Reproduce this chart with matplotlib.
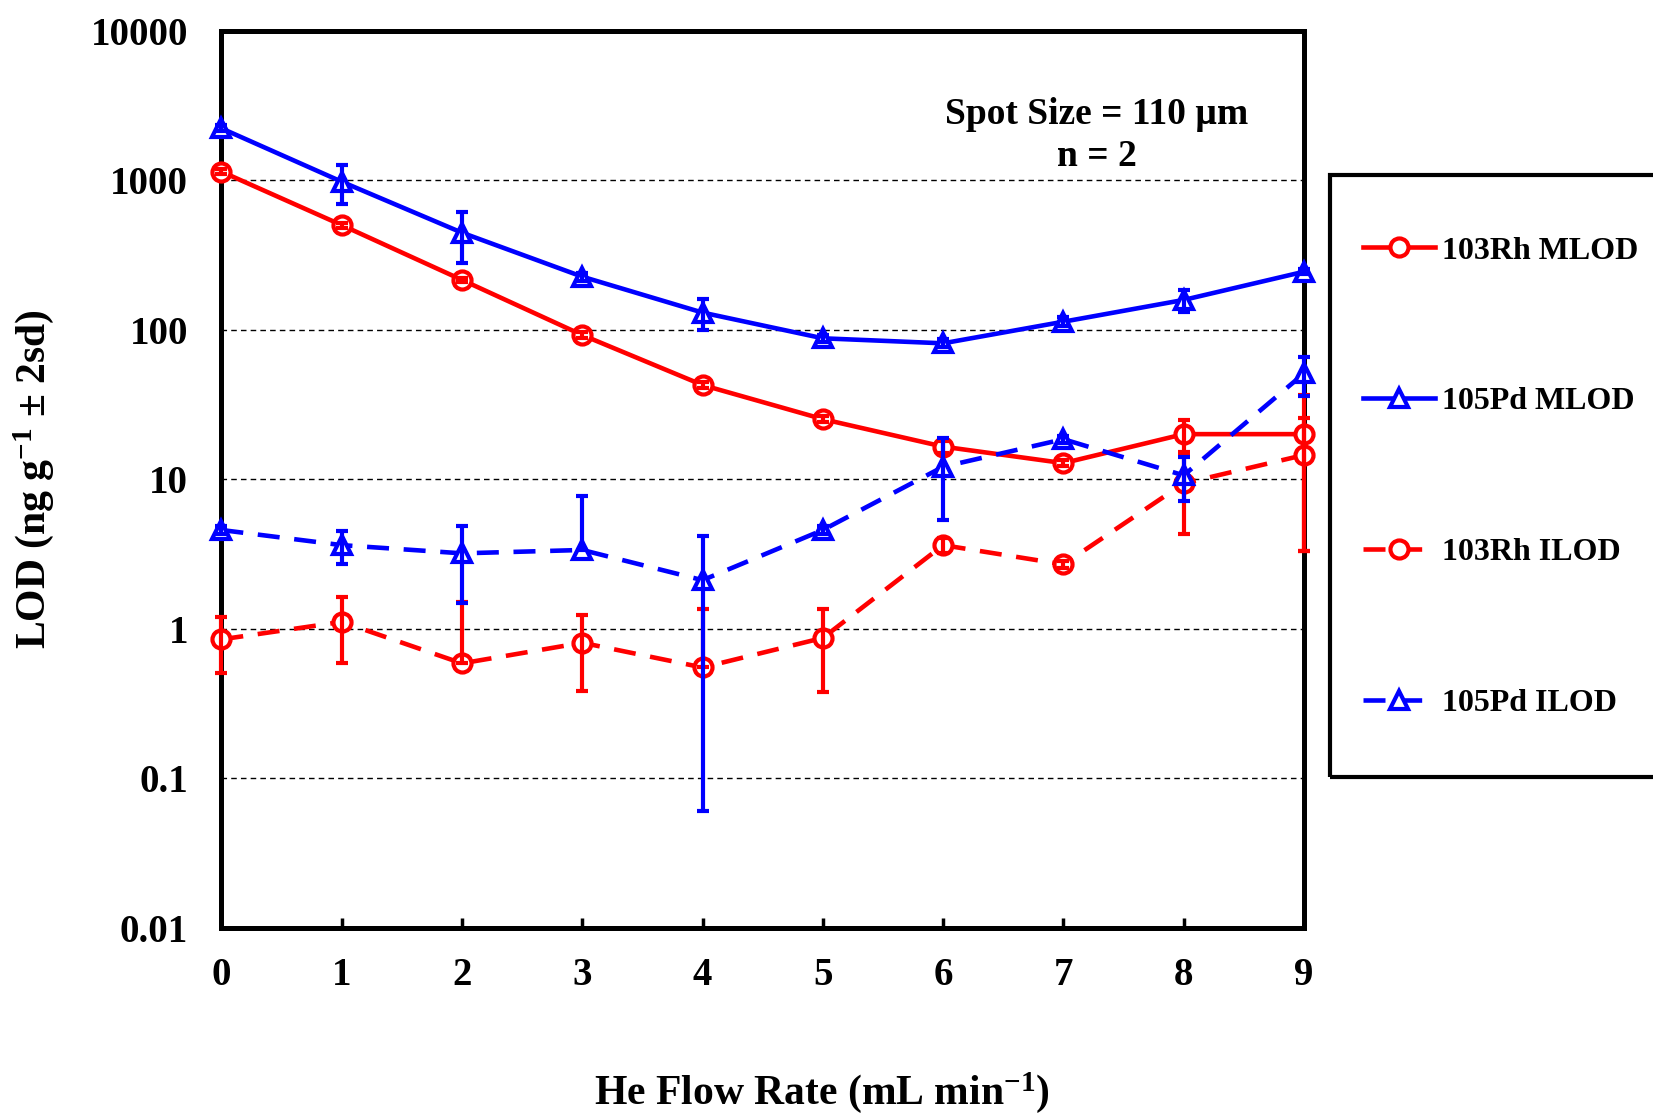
import numpy as np
import matplotlib
matplotlib.use("Agg")
import matplotlib.pyplot as plt
from matplotlib.lines import Line2D
from matplotlib.patches import Rectangle

# data
flow = [0, 1, 2, 3, 4, 5, 6, 7, 8, 9]

rh_mlod = [1140, 500, 215, 92, 42.6, 25.2, 16.5, 12.8, 20.0, 20.0]
rh_mlod_lo = [40, 20, 8, 4, 2, 1.2, 1.5, 0.6, 4.8, 16.7]
rh_mlod_hi = [40, 20, 8, 4, 2, 1.2, 1.5, 0.6, 4.8, 16.7]

pd_mlod = [2220, 976, 445, 226, 130, 87.5, 81, 113, 158, 244]
pd_mlod_lo = [100, 280, 165, 15, 31, 5, 5, 8, 27, 10]
pd_mlod_hi = [100, 280, 165, 15, 31, 5, 5, 8, 27, 10]

rh_ilod = [0.848, 1.11, 0.586, 0.805, 0.55, 0.867, 3.62, 2.69, 9.37, 14.5]
rh_ilod_lo = [0.34, 0.52, 0, 0.42, 0, 0.49, 0.4, 0.15, 5.1, 11.2]
rh_ilod_hi = [0.34, 0.52, 0.93, 0.42, 0.8, 0.49, 0.4, 0.15, 5.1, 11.2]

pd_ilod = [4.57, 3.62, 3.19, 3.36, 2.11, 4.57, 12.1, 18.5, 10.6, 51]
pd_ilod_lo = [0.3, 0.9, 1.7, 0, 2.05, 0.3, 6.8, 1.0, 3.5, 15]
pd_ilod_hi = [0.3, 0.9, 1.7, 4.35, 2.05, 0.3, 6.8, 1.0, 3.5, 15]

y_ticks = [0.01, 0.1, 1, 10, 100, 1000, 10000]
y_labels = ["0.01", "0.1", "1", "10", "100", "1000", "10000"]

plt.rcParams['font.family'] = ['Liberation Serif', 'DejaVu Serif']
plt.rcParams['font.weight'] = 'bold'
plt.rcParams['mathtext.fontset'] = 'custom'
plt.rcParams['mathtext.rm'] = 'Liberation Serif:bold'
plt.rcParams['mathtext.bf'] = 'Liberation Serif:bold'
plt.rcParams['mathtext.it'] = 'Liberation Serif:bold:italic'

W, H = 1653, 1116
fig = plt.figure(figsize=(W / 100, H / 100), dpi=100)
ax = fig.add_axes([221.4 / W, 1 - 927.7 / H, (1304 - 221.4) / W, (927.7 - 30.6) / H])

RED = '#ff0000'
BLUE = '#0000ff'
DASH = (0, (4.8, 3.2))
lw = 3.3

series = [
    (rh_mlod, rh_mlod_lo, rh_mlod_hi, RED, 'o', '-', '103Rh MLOD'),
    (pd_mlod, pd_mlod_lo, pd_mlod_hi, BLUE, '^', '-', '105Pd MLOD'),
    (rh_ilod, rh_ilod_lo, rh_ilod_hi, RED, 'o', DASH, '103Rh ILOD'),
    (pd_ilod, pd_ilod_lo, pd_ilod_hi, BLUE, '^', DASH, '105Pd ILOD'),
]

handles = []
for i, (vals, lo, hi, col, mk, ls, lab) in enumerate(series):
    ax.plot(flow, vals, color=col, lw=lw, ls=ls, marker=mk, ms=13, mew=3,
            mfc='white', mec=col, clip_on=False, zorder=3 + i)
    ax.errorbar(flow, vals, yerr=[lo, hi], fmt='none', ecolor=col,
                elinewidth=3, capsize=4, capthick=3, clip_on=False, zorder=8)
    handles.append(Line2D([], [], color=col, lw=lw, ls=ls, marker=mk, ms=13,
                          mew=3, mfc='white', mec=col, label=lab))

ax.set_yscale('log')
ax.set_ylim(0.01, 10000)
ax.set_xlim(0, 9)
ax.set_yticks(y_ticks)
ax.set_yticklabels(y_labels)
ax.yaxis.set_minor_locator(matplotlib.ticker.NullLocator())
ax.set_xticks(flow)
ax.tick_params(axis='x', direction='in', length=7, width=2.5, pad=21, labelsize=28)
ax.tick_params(axis='y', length=0, pad=24, labelsize=28)
for lbl in ax.get_xticklabels() + ax.get_yticklabels():
    lbl.set_fontweight('bold')

ax.grid(axis='y', color='black', lw=1, ls=(0, (4, 3)))
ax.set_axisbelow(True)
for sp in ax.spines.values():
    sp.set_linewidth(3.6)
    sp.set_zorder(2.5)

fig.text(1097 / W, 1 - 114 / H, 'Spot Size = 110 µm', ha='center', va='center',
         fontsize=27, fontweight='bold')
fig.text(1097 / W, 1 - 157 / H, 'n = 2', ha='center', va='center',
         fontsize=27, fontweight='bold')

fig.text(822 / W, 1 - 1093 / H, r'He Flow Rate (mL min$^{-1}$)', ha='center',
         va='center', fontsize=30, fontweight='bold')
fig.text(34 / W, 1 - 479 / H, r'LOD (ng g$^{-1}$ $\pm$ 2sd)', ha='center',
         va='center', rotation=90, fontsize=30, fontweight='bold')

# legend box runs off the right edge
fig.patches.append(Rectangle((1330 / W, 1 - 777 / H), 400 / W, (777 - 175) / H,
                             transform=fig.transFigure, fill=False, lw=3,
                             edgecolor='black'))
fig.legend(handles=handles, loc='center left',
           bbox_to_anchor=(1363 / W, 1 - 477 / H), frameon=False,
           prop={'family': 'Liberation Serif', 'weight': 'bold', 'size': 23},
           handlelength=2.26, handletextpad=0.22, labelspacing=3.8,
           borderpad=0, borderaxespad=0)

fig.savefig('out.png', dpi=100)
